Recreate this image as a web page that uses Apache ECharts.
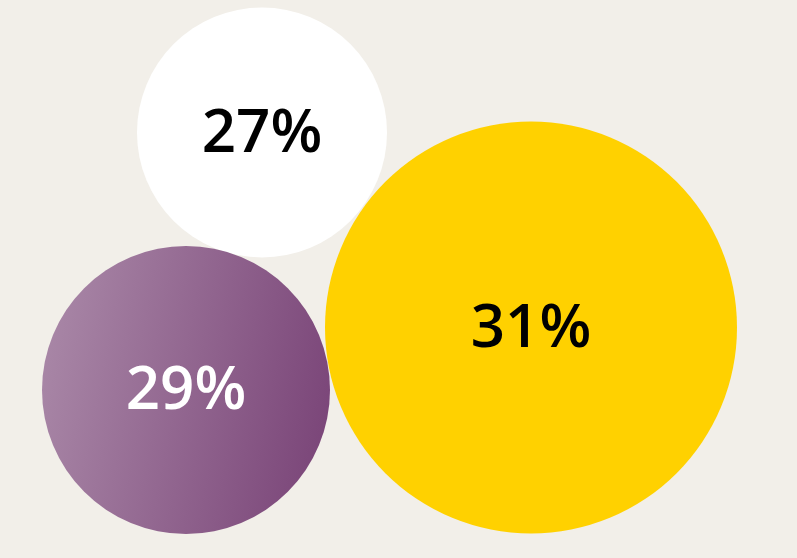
<!DOCTYPE html>
<html><head><meta charset="utf-8">
<style>html,body{margin:0;padding:0;background:#f2efe9;}#c{width:797px;height:558px;}</style>
<script src="https://cdn.jsdelivr.net/npm/echarts@6/dist/echarts.min.js"></script>
</head><body><div id="c"></div>
<script>
const labels = ['27%', '29%', '31%'];
const values = [27, 29, 31];
const centerX = [262, 186, 531];
const centerY = [132.5, 390, 327.5];
const diameters = [250, 288, 412];
const fills = [
  '#ffffff',
  new echarts.graphic.LinearGradient(0, 0.4, 1, 0.6, [{offset: 0, color: '#a886a6'}, {offset: 1, color: '#7b4679'}]),
  '#ffd100'
];
const textColors = ['#000000', '#ffffff', '#000000'];

const chart = echarts.init(document.getElementById('c'));
chart.setOption({
  backgroundColor: '#f2efe9',
  animation: false,
  grid: {left: 0, right: 0, top: 0, bottom: 0},
  xAxis: {type: 'value', min: 0, max: 797, show: false},
  yAxis: {type: 'value', min: 0, max: 558, inverse: true, show: false},
  series: [{
    type: 'scatter',
    symbol: 'circle',
    data: labels.map((l, i) => ({
      value: [centerX[i], centerY[i], values[i]],
      name: l,
      symbolSize: diameters[i],
      itemStyle: {color: fills[i], opacity: 1},
      label: {color: textColors[i]}
    })),
    label: {
      show: true,
      position: 'inside',
      offset: [0, 2],
      formatter: p => p.name,
      fontFamily: 'Open Sans',
      fontWeight: 600,
      fontSize: 60
    },
    emphasis: {disabled: true}
  }]
});
</script></body></html>
